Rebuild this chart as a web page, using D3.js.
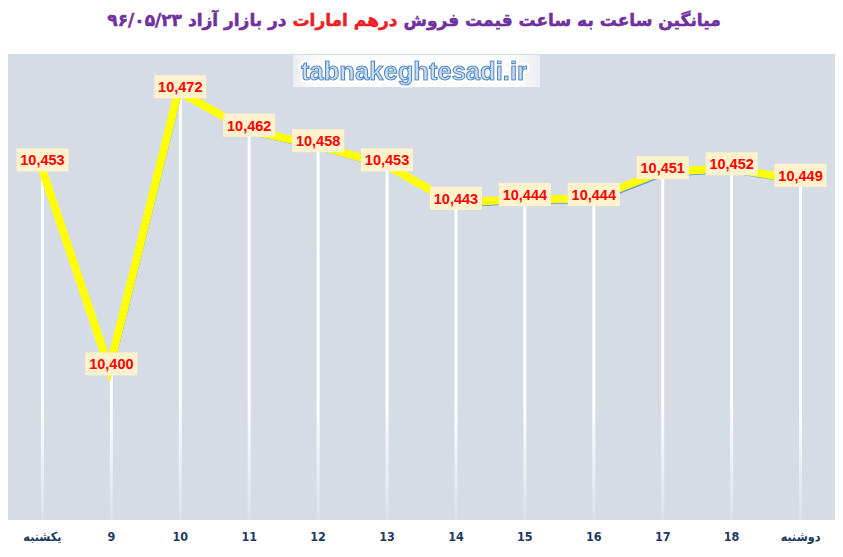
<!DOCTYPE html>
<html>
<head>
<meta charset="utf-8">
<script src="https://cdn.jsdelivr.net/npm/d3@7"></script>
<style>
  body { margin: 0; background: #fff; }
</style>
</head>
<body>
<svg id="chart"></svg>
<script>
// Data
const hours = ["یکشنبه", "9", "10", "11", "12", "13", "14", "15", "16", "17", "18", "دوشنبه"];
const prices = [10453, 10400, 10472, 10462, 10458, 10453, 10443, 10444, 10444, 10451, 10452, 10449];

const titleParts = [
  { text: "میانگین ساعت به ساعت قیمت فروش ", color: "#7030a0" },
  { text: "درهم امارات", color: "#ee1c25" },
  { text: " در بازار آزاد ۹۶/۰۵/۲۳", color: "#7030a0" }
];

const width = 843, height = 557;
const plot = { left: 8, right: 835, top: 54, bottom: 520 };

const svg = d3.select("#chart")
  .attr("width", width)
  .attr("height", height);

const defs = svg.append("defs");

// fading drop lines
const fade = defs.append("linearGradient")
  .attr("id", "dropFade")
  .attr("gradientUnits", "userSpaceOnUse")
  .attr("x1", 0).attr("x2", 0)
  .attr("y1", plot.top).attr("y2", plot.bottom);
fade.append("stop").attr("offset", "0.75").attr("stop-color", "#fff").attr("stop-opacity", 1);
fade.append("stop").attr("offset", "1").attr("stop-color", "#fff").attr("stop-opacity", 0.15);

// watermark box fade
const wm = defs.append("linearGradient").attr("id", "wmFade");
wm.append("stop").attr("offset", "0").attr("stop-color", "#fff").attr("stop-opacity", 0.5);
wm.append("stop").attr("offset", "0.1").attr("stop-color", "#fff").attr("stop-opacity", 0.9);
wm.append("stop").attr("offset", "0.9").attr("stop-color", "#fff").attr("stop-opacity", 0.9);
wm.append("stop").attr("offset", "1").attr("stop-color", "#fff").attr("stop-opacity", 0.5);

const glow = defs.append("filter").attr("id", "glow")
  .attr("x", "-10%").attr("y", "-30%").attr("width", "120%").attr("height", "160%");
glow.append("feMorphology").attr("in", "SourceAlpha").attr("operator", "dilate").attr("radius", 1.5).attr("result", "d");
glow.append("feFlood").attr("flood-color", "#fff");
glow.append("feComposite").attr("in2", "d").attr("operator", "in").attr("result", "w");
const merge = glow.append("feMerge");
merge.append("feMergeNode").attr("in", "w");
merge.append("feMergeNode").attr("in", "SourceGraphic");

// Scales
const x = d3.scaleBand()
  .domain(hours)
  .range([plot.left, plot.right]);

const y = d3.scaleLinear()
  .domain([10361.5, 10482.6])
  .range([plot.bottom, plot.top]);

const cx = d => x(d) + x.bandwidth() / 2;

// Plot background
svg.append("rect")
  .attr("x", plot.left)
  .attr("y", plot.top)
  .attr("width", plot.right - plot.left)
  .attr("height", plot.bottom - plot.top)
  .attr("fill", "#d6dce5");

// Title
const title = svg.append("text")
  .attr("x", 414)
  .attr("y", 26)
  .attr("text-anchor", "middle")
  .attr("direction", "rtl")
  .attr("stroke-width", 0.5)
  .style("font-family", "'DejaVu Sans', 'Noto Sans', sans-serif")
  .style("font-weight", "bold")
  .style("font-size", "17px");

title.selectAll("tspan")
  .data(titleParts)
  .enter()
  .append("tspan")
  .attr("fill", d => d.color)
  .attr("stroke", d => d.color)
  .text(d => d.text);

// Watermark
svg.append("rect")
  .attr("x", 293)
  .attr("y", 55)
  .attr("width", 247)
  .attr("height", 32)
  .attr("fill", "url(#wmFade)");

svg.append("text")
  .attr("x", 414)
  .attr("y", 80)
  .attr("text-anchor", "middle")
  .attr("textLength", 226)
  .attr("lengthAdjust", "spacingAndGlyphs")
  .attr("fill", "#c9def4")
  .attr("stroke", "#4f89c6")
  .attr("stroke-width", 1.1)
  .attr("filter", "url(#glow)")
  .style("font-family", "'Liberation Sans Narrow', 'Liberation Sans', sans-serif")
  .style("font-weight", "bold")
  .style("font-size", "25px")
  .text("tabnakeghtesadi.ir");

// Drop lines
svg.append("g")
  .selectAll("line")
  .data(prices)
  .enter()
  .append("line")
  .attr("x1", (d, i) => cx(hours[i]))
  .attr("x2", (d, i) => cx(hours[i]))
  .attr("y1", d => y(d))
  .attr("y2", plot.bottom)
  .attr("stroke", "url(#dropFade)")
  .attr("stroke-width", 3);

// Lines: thin blue line with thick yellow line shifted up-left
const line = d3.line()
  .x((d, i) => cx(hours[i]))
  .y(d => y(d));

svg.append("path")
  .datum(prices)
  .attr("d", line)
  .attr("fill", "none")
  .attr("stroke", "#5b9bd5")
  .attr("stroke-width", 2.5)
  .attr("stroke-linejoin", "round");

svg.append("path")
  .datum(prices)
  .attr("d", line)
  .attr("transform", "translate(-2,-3.5)")
  .attr("fill", "none")
  .attr("stroke", "#ffff00")
  .attr("stroke-width", 8)
  .attr("stroke-linejoin", "miter");

// Data labels
const labels = svg.append("g")
  .selectAll("g")
  .data(prices)
  .enter()
  .append("g")
  .attr("transform", (d, i) => `translate(${cx(hours[i])},${y(d) - 8})`);

labels.append("rect")
  .attr("x", -26)
  .attr("y", -11.5)
  .attr("width", 52)
  .attr("height", 23)
  .attr("fill", "#fff2cc");

labels.append("text")
  .attr("text-anchor", "middle")
  .attr("dy", "0.36em")
  .attr("fill", "#ff0000")
  .style("font-family", "'Liberation Sans', sans-serif")
  .style("font-weight", "bold")
  .style("font-size", "14.5px")
  .text(d => d3.format(",")(d));

// X axis
const xAxis = svg.append("g")
  .attr("transform", `translate(0,${plot.bottom})`)
  .call(d3.axisBottom(x).tickSize(0).tickPadding(12));

xAxis.select(".domain").remove();
xAxis.selectAll("text")
  .attr("fill", "#1f3864")
  .style("font-family", "'DejaVu Sans Condensed', 'DejaVu Sans', sans-serif")
  .style("font-weight", "bold")
  .style("font-size", "12.5px");
</script>
</body>
</html>
